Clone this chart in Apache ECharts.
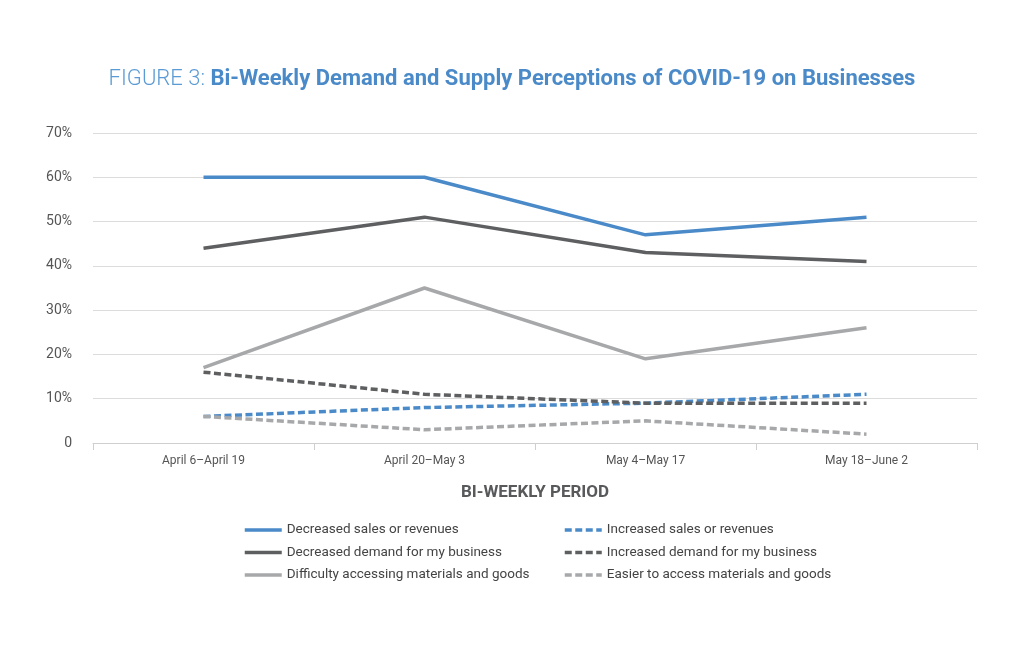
<!DOCTYPE html>
<html>
<head>
<meta charset="utf-8">
<script src="https://cdn.jsdelivr.net/npm/echarts@6/dist/echarts.min.js"></script>
<style>
html,body{margin:0;padding:0;background:#fff;}
#c{width:1024px;height:652px;}
</style>
</head>
<body>
<div id="c"></div>
<script>
var categories = ['April 6\u2013April 19', 'April 20\u2013May 3', 'May 4\u2013May 17', 'May 18\u2013June 2'];
var decreasedSales = [60, 60, 47, 51];
var decreasedDemand = [44, 51, 43, 41];
var difficultyAccess = [17, 35, 19, 26];
var increasedSales = [6, 8, 9, 11];
var increasedDemand = [16, 11, 9, 9];
var easierAccess = [6, 3, 5, 2];
var yTicks = [0, 10, 20, 30, 40, 50, 60, 70];

var BLUE = '#4a8ac8', DARK = '#5e5f61', LIGHT = '#a7a8aa';
var FONT = 'Roboto';

function mk(name, data, color, dashed) {
  return {
    name: name, type: 'line', data: data, symbol: 'none', showSymbol: false,
    lineStyle: { color: color, width: 3.5, type: dashed ? [7, 3.5] : 'solid', cap: 'butt' },
    itemStyle: { color: color },
    emphasis: { disabled: true }, animation: false
  };
}

var legendBase = {
  orient: 'vertical', top: 518, itemGap: 8.5, itemWidth: 37, itemHeight: 14,
  itemStyle: { opacity: 0, borderWidth: 0 },
  lineStyle: { width: 3.5 },
  textStyle: { fontFamily: FONT, fontSize: 13.5, color: '#444' }
};

var chart = echarts.init(document.getElementById('c'));
chart.setOption({
  backgroundColor: '#fff',
  animation: false,
  textStyle: { fontFamily: FONT },
  title: {
    left: 'center', top: 63,
    text: '{a|FIGURE 3: }{b|Bi-Weekly Demand and Supply Perceptions of COVID-19 on Businesses}',
    textStyle: {
      rich: {
        a: { fontFamily: FONT, fontSize: 22, fontWeight: 300, color: '#5b9bd5' },
        b: { fontFamily: FONT, fontSize: 22, fontWeight: 'bold', color: '#4a8ac8' }
      }
    }
  },
  grid: { left: 93, right: 47, top: 133, bottom: 209, containLabel: false },
  xAxis: {
    type: 'category', data: categories, boundaryGap: true,
    name: 'BI-WEEKLY PERIOD', nameLocation: 'middle', nameGap: 41,
    nameTextStyle: { fontFamily: FONT, fontSize: 17, fontWeight: 'bold', color: '#58595b' },
    axisLine: { lineStyle: { color: '#cfcfcf', width: 1 } },
    axisTick: { show: true, length: 7, lineStyle: { color: '#cfcfcf' } },
    axisLabel: { fontFamily: FONT, fontSize: 12, color: '#555', margin: 12 }
  },
  yAxis: {
    type: 'value', min: 0, max: 70, interval: 10,
    axisLine: { show: false }, axisTick: { show: false },
    splitLine: { lineStyle: { color: '#dcdcdc', width: 1 } },
    axisLabel: {
      fontFamily: FONT, fontSize: 14, color: '#555', margin: 21,
      formatter: function (v) { return yTicks.indexOf(v) === 0 ? '0' : v + '%'; }
    }
  },
  legend: [
    Object.assign({}, legendBase, {
      left: 238,
      data: ['Decreased sales or revenues', 'Decreased demand for my business', 'Difficulty accessing materials and goods']
    }),
    Object.assign({}, legendBase, {
      left: 558,
      data: ['Increased sales or revenues', 'Increased demand for my business', 'Easier to access materials and goods']
    })
  ],
  series: [
    mk('Decreased sales or revenues', decreasedSales, BLUE, false),
    mk('Decreased demand for my business', decreasedDemand, DARK, false),
    mk('Difficulty accessing materials and goods', difficultyAccess, LIGHT, false),
    mk('Increased sales or revenues', increasedSales, BLUE, true),
    mk('Increased demand for my business', increasedDemand, DARK, true),
    mk('Easier to access materials and goods', easierAccess, LIGHT, true)
  ]
});
</script>
</body>
</html>
